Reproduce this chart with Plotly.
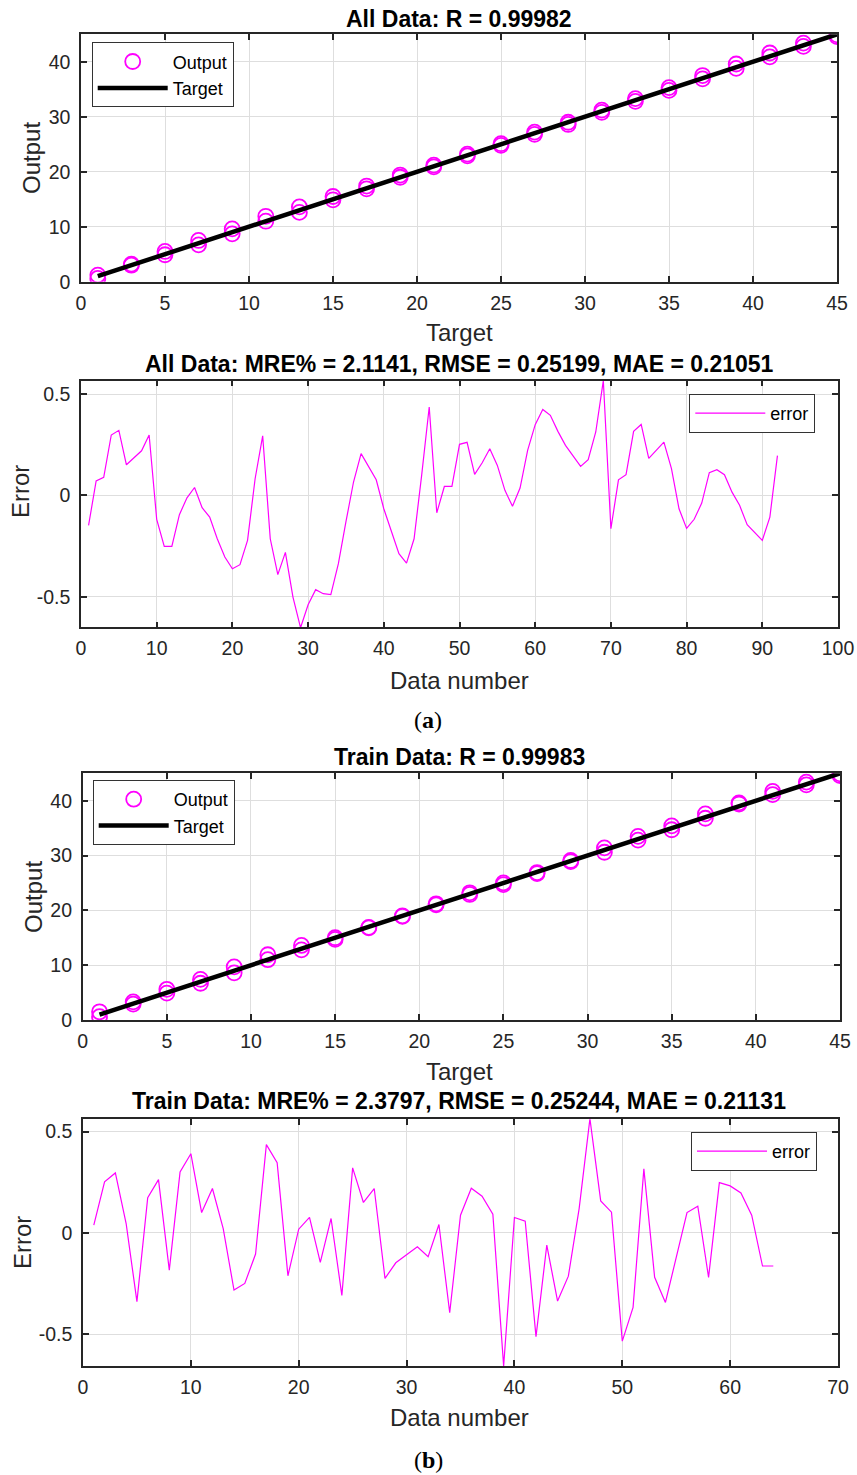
import plotly.graph_objects as go

# ---------------- data ----------------
all_target = [1, 3, 5, 7, 9, 11, 13, 15, 17, 19, 21, 23, 25, 27, 29, 31, 33, 35, 37, 39, 41, 43, 45]
all_output_a = [1.2, 3.2, 5.5, 7.5, 9.6, 11.9, 13.6, 15.5, 17.4, 19.4, 21.2, 23.2, 25.1, 27.2, 29.0, 31.2, 33.3, 35.3, 37.5, 39.6, 41.6, 43.4, 44.9]
all_output_b = [0.6, 3.0, 4.9, 6.7, 8.7, 11.0, 12.6, 14.9, 16.9, 19.0, 20.9, 22.9, 24.8, 26.8, 28.6, 30.8, 32.8, 34.8, 36.9, 38.8, 40.9, 42.8, 44.6]

all_error = [-0.148, 0.071, 0.089, 0.298, 0.321, 0.151, 0.186, 0.220, 0.298, -0.118,
             -0.252, -0.252, -0.095, -0.012, 0.039, -0.061, -0.107, -0.214, -0.304, -0.362,
             -0.342, -0.222, 0.082, 0.294, -0.214, -0.391, -0.281, -0.502, -0.653, -0.540,
             -0.465, -0.485, -0.490, -0.337, -0.130, 0.066, 0.206, 0.140, 0.077, -0.066,
             -0.181, -0.288, -0.334, -0.214, 0.099, 0.436, -0.086, 0.044, 0.044, 0.252,
             0.262, 0.104, 0.161, 0.230, 0.148, 0.025, -0.054, 0.036, 0.222, 0.349,
             0.424, 0.395, 0.316, 0.247, 0.195, 0.143, 0.176, 0.313, 0.566, -0.164,
             0.077, 0.102, 0.316, 0.350, 0.183, 0.222, 0.263, 0.132, -0.066, -0.163,
             -0.118, -0.038, 0.112, 0.127, 0.102, 0.016, -0.049, -0.145, -0.184, -0.222,
             -0.107, 0.196]

train_target = [1, 3, 5, 7, 9, 11, 13, 15, 17, 19, 21, 23, 25, 27, 29, 31, 33, 35, 37, 39, 41, 43, 45]
train_output_a = [1.5, 3.3, 5.6, 7.4, 9.7, 11.9, 13.6, 15.0, 16.9, 19.0, 21.2, 23.2, 25.0, 26.9, 29.1, 31.4, 33.5, 35.4, 37.6, 39.6, 41.7, 43.4, 44.9]
train_output_b = [0.6, 2.9, 4.9, 6.7, 8.6, 11.0, 12.8, 14.7, 16.8, 18.9, 21.0, 22.9, 24.7, 26.7, 28.9, 30.6, 32.8, 34.7, 36.8, 39.4, 41.1, 42.9, 44.6]

train_error = [0.038, 0.252, 0.296, 0.046, -0.340, 0.174, 0.263, -0.184, 0.301, 0.391,
               0.100, 0.219, 0.021, -0.283, -0.250, -0.105, 0.436, 0.347, -0.212, 0.018,
               0.076, -0.146, 0.071, -0.309, 0.321, 0.150, 0.219, -0.225, -0.148, -0.107,
               -0.069, -0.118, 0.041, -0.395, 0.087, 0.220, 0.181, 0.092, -0.658, 0.076,
               0.058, -0.513, -0.061, -0.337, -0.214, 0.120, 0.564, 0.158, 0.102, -0.535,
               -0.368, 0.316, -0.220, -0.344, -0.118, 0.100, 0.132, -0.220, 0.248, 0.232,
               0.197, 0.087, -0.164, -0.164]

titles = ["All Data: R = 0.99982",
          "All Data: MRE% = 2.1141, RMSE = 0.25199, MAE = 0.21051",
          "Train Data: R = 0.99983",
          "Train Data: MRE% = 2.3797, RMSE = 0.25244, MAE = 0.21131"]

scatter_ticks = [0, 5, 10, 15, 20, 25, 30, 35, 40, 45]
output_ticks = [0, 10, 20, 30, 40]
err_ticks = [-0.5, 0, 0.5]
err_ticktext = ["-0.5", "0", "0.5"]
all_x_ticks = [0, 10, 20, 30, 40, 50, 60, 70, 80, 90, 100]
train_x_ticks = [0, 10, 20, 30, 40, 50, 60, 70]

# ---------------- layout helpers ----------------
W, H = 857, 1475
FONT = "Liberation Sans, Arial, sans-serif"
AXC = "#262626"
GRID = "#dedede"
MAG = "#ff00ff"


def px_x(p):
    return p / W


def px_y(p):
    return 1 - p / H


# panel boxes in pixels: (left, right, top, bottom)
boxes = [(81, 837, 34.3, 281.7),
         (81, 838, 380.7, 627.3),
         (82.7, 840, 773.3, 1020),
         (83, 838, 1119.3, 1366)]


def axis_common():
    return dict(showline=True, linecolor=AXC, linewidth=1.5, mirror="ticks",
                ticks="inside", ticklen=6, tickwidth=1.5, tickcolor=AXC,
                showgrid=True, gridcolor=GRID, gridwidth=1, zeroline=False,
                automargin=False,
                tickfont=dict(family=FONT, size=19.5, color=AXC))


fig = go.Figure()

# Panel 1: All data regression
out_x1 = all_target + all_target
out_y1 = all_output_a + all_output_b
fig.add_trace(go.Scatter(x=out_x1, y=out_y1, mode="markers", name="Output",
                         marker=dict(symbol="circle-open", size=15, color=MAG,
                                     line=dict(width=1.8, color=MAG)),
                         xaxis="x", yaxis="y", legend="legend"))
fig.add_trace(go.Scatter(x=[all_target[0], all_target[-1]], y=[all_target[0], all_target[-1]],
                         mode="lines", name="Target", line=dict(color="black", width=4.5),
                         xaxis="x", yaxis="y", legend="legend"))

# Panel 2: All data error
fig.add_trace(go.Scatter(x=list(range(1, len(all_error) + 1)), y=all_error, mode="lines",
                         name="error", line=dict(color=MAG, width=1.2),
                         xaxis="x2", yaxis="y2", legend="legend2"))

# Panel 3: Train regression
out_x3 = train_target + train_target
out_y3 = train_output_a + train_output_b
fig.add_trace(go.Scatter(x=out_x3, y=out_y3, mode="markers", name="Output",
                         marker=dict(symbol="circle-open", size=15, color=MAG,
                                     line=dict(width=1.8, color=MAG)),
                         xaxis="x3", yaxis="y3", legend="legend3"))
fig.add_trace(go.Scatter(x=[train_target[0], train_target[-1]], y=[train_target[0], train_target[-1]],
                         mode="lines", name="Target", line=dict(color="black", width=4.5),
                         xaxis="x3", yaxis="y3", legend="legend3"))

# Panel 4: Train error
fig.add_trace(go.Scatter(x=list(range(1, len(train_error) + 1)), y=train_error, mode="lines",
                         name="error", line=dict(color=MAG, width=1.2),
                         xaxis="x4", yaxis="y4", legend="legend4"))

layout = dict(width=W, height=H, margin=dict(l=0, r=0, t=0, b=0, pad=0, autoexpand=False),
              paper_bgcolor="white", plot_bgcolor="white",
              font=dict(family=FONT, size=19, color=AXC))

ranges = [
    ((0, 45), scatter_ticks, None, (0, 45), output_ticks, None),
    ((0, 100), all_x_ticks, None, (-0.651, 0.566), err_ticks, err_ticktext),
    ((0, 45), scatter_ticks, None, (0, 45), output_ticks, None),
    ((0, 70), train_x_ticks, None, (-0.658, 0.561), err_ticks, err_ticktext),
]

for i, (b, r) in enumerate(zip(boxes, ranges)):
    n = "" if i == 0 else str(i + 1)
    l, rr, t, bt = b
    xa = axis_common()
    xa.update(domain=[px_x(l), px_x(rr)], range=list(r[0]), tickvals=r[1],
              anchor="y" + n, ticklabelstandoff=3)
    ya = axis_common()
    ya.update(domain=[px_y(bt), px_y(t)], range=list(r[3]), tickvals=r[4],
              anchor="x" + n, ticklabelstandoff=5)
    if r[5] is not None:
        ya.update(ticktext=r[5])
    layout["xaxis" + n] = xa
    layout["yaxis" + n] = ya

legend_style = dict(bgcolor="white", bordercolor="#333333", borderwidth=1,
                    font=dict(family=FONT, size=18, color="black"),
                    xanchor="left", yanchor="top", itemwidth=70,
                    tracegroupgap=0)
layout["legend"] = dict(legend_style, x=px_x(91.7), y=px_y(42.3))
layout["legend2"] = dict(legend_style, x=px_x(689.3), y=px_y(394))
layout["legend3"] = dict(legend_style, x=px_x(92.7), y=px_y(780))
layout["legend4"] = dict(legend_style, x=px_x(691), y=px_y(1132))

fig.update_layout(**layout)

# annotations: titles, axis titles, captions
ann = []
title_y = [19, 364, 757, 1101]
for txt, ty in zip(titles, title_y):
    ann.append(dict(text="<b>" + txt + "</b>", x=px_x(459), y=px_y(ty),
                    font=dict(family=FONT, size=23, color="black")))
axis_titles = [("Output", 32, 158, -90), ("Target", 459, 332, 0),
               ("Error", 20, 492, -90), ("Data number", 459, 680, 0),
               ("Output", 34, 897, -90), ("Target", 459, 1071, 0),
               ("Error", 22, 1243, -90), ("Data number", 459, 1417, 0)]
for txt, ax_, ay_, rot in axis_titles:
    ann.append(dict(text=txt, x=px_x(ax_), y=px_y(ay_), textangle=rot,
                    font=dict(family=FONT, size=24, color=AXC)))
ann.append(dict(text="(<b>a</b>)", x=px_x(428), y=px_y(720),
                font=dict(family="Liberation Serif, serif", size=24, color="black")))
ann.append(dict(text="(<b>b</b>)", x=px_x(428), y=px_y(1460),
                font=dict(family="Liberation Serif, serif", size=24, color="black")))
for a in ann:
    a.update(xref="paper", yref="paper", showarrow=False, xanchor="center", yanchor="middle")
fig.update_layout(annotations=ann)

reset_css = ("document.documentElement.style.margin='0';"
             "document.body.style.margin='0';"
             "document.body.style.padding='0';"
             "document.documentElement.style.overflow='hidden';"
             "document.body.style.overflow='hidden';")
fig.write_html("out.html", post_script=reset_css)
